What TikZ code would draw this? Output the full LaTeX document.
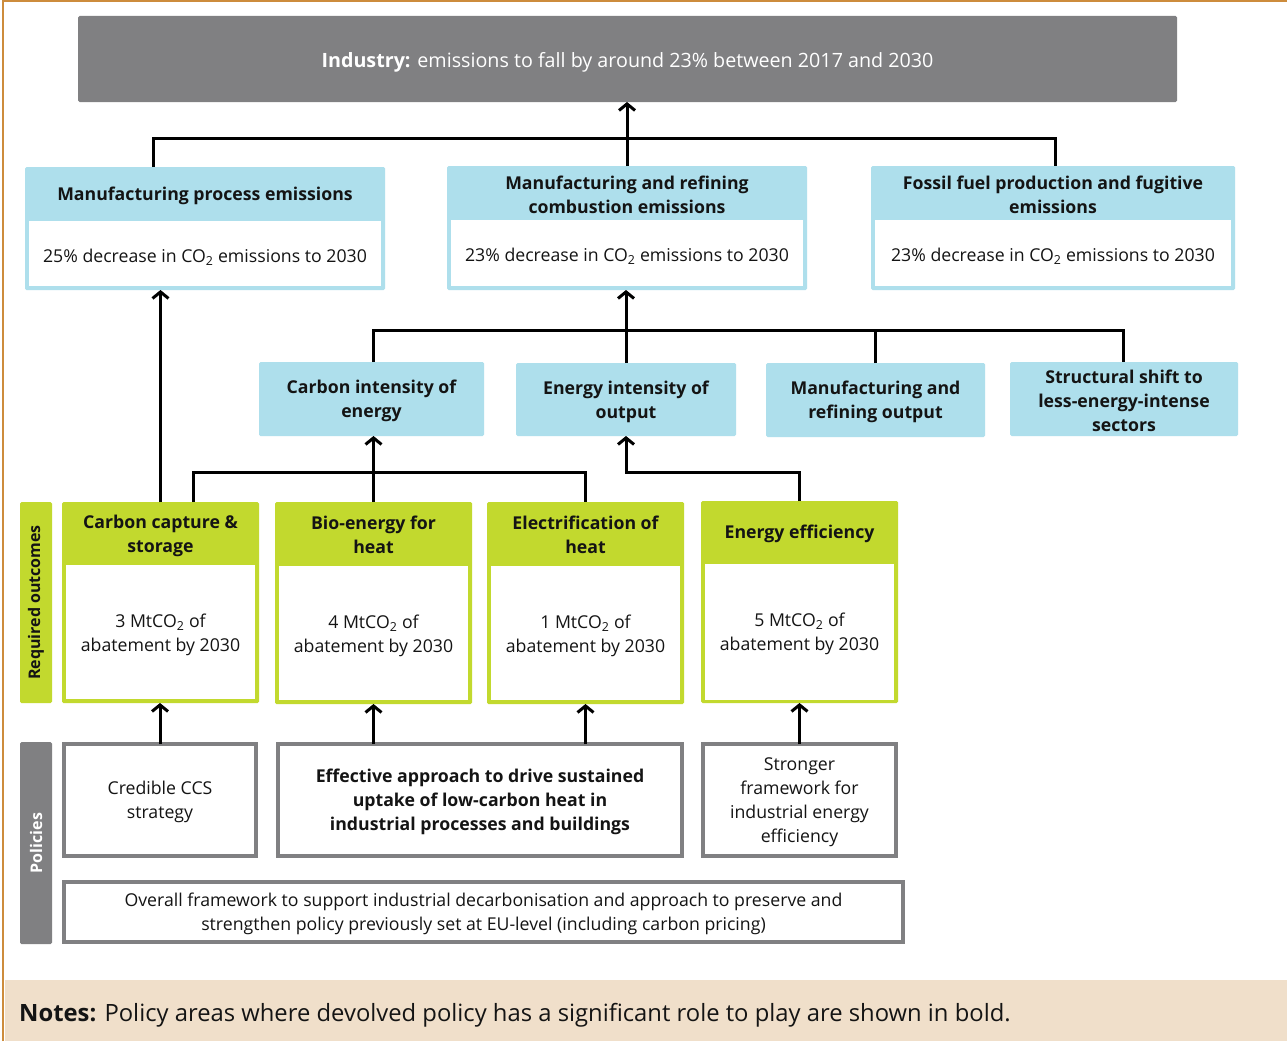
\documentclass[tikz,border=0pt]{standalone}
\usepackage{fontspec}
\setmainfont{Open Sans}
\usetikzlibrary{arrows.meta,calc}
\definecolor{lblue}{RGB}{174,223,236}
\definecolor{lgreen}{RGB}{194,217,46}
\definecolor{dgray}{RGB}{128,128,130}
\definecolor{notebg}{RGB}{240,223,202}
\definecolor{frameor}{RGB}{205,140,60}
\definecolor{txt}{RGB}{20,20,20}
\newcommand\cotwo{CO\textsubscript{2}}
\begin{document}
\begin{tikzpicture}[x=1pt,y=-1pt,
  blk/.style={inner sep=0pt, outer sep=0pt, anchor=north west},
  bluebox/.style={blk, fill=lblue, rounded corners=1.5pt},
  greenbox/.style={blk, fill=lgreen, rounded corners=1.5pt},
  whitebox/.style={blk, fill=white},
  polbox/.style={blk, fill=white, draw=dgray, line width=4pt},
  side/.style={blk, fill=dgray, rounded corners=1.5pt},
  hdr/.style={text=txt, align=center, font=\fontsize{17.7}{24}\selectfont\bfseries, inner sep=0pt, yshift=-2pt},
  bdy/.style={text=txt, align=center, font=\fontsize{17.7}{24}\selectfont, inner sep=0pt, yshift=-2pt},
  conn/.style={line width=3pt, draw=black},
  arr/.style={conn, -{Straight Barb[length=6.5pt,width=16pt,line width=3pt]}}
]
\useasboundingbox (0,0) rectangle (1287,1041);
\fill[white] (0,0) rectangle (1287,1041);

% notes band
\node[blk, fill=notebg, minimum width=1282pt, minimum height=61pt] (notes) at (5,980) {};
\node[anchor=west, inner sep=0pt, text=txt, font=\fontsize{23.8}{28}\selectfont, yshift=-2pt] (notestxt) at (19,1013)
  {\textbf{Notes:} Policy areas where devolved policy has a significant role to play are shown in bold.};

% frame
\draw[frameor, line width=2pt] (3,1041) -- (3,1) -- (1287,1);

% top box
\node[blk, fill=dgray, rounded corners=1.5pt, minimum width=1099pt, minimum height=86pt] (top) at (78,16) {};
\node[text=white, inner sep=0pt, font=\fontsize{19.7}{24}\selectfont, yshift=-2pt] (toptxt) at (627.5,60)
  {\textbf{Industry:} emissions to fall by around 23\% between 2017 and 2030};

% level 2
\node[bluebox, minimum width=360pt, minimum height=123pt] (m1) at (25,167) {};
\node[whitebox, minimum width=352pt, minimum height=65pt] (m1w) at (29,221) {};
\node[hdr] (m1h) at (205,194) {Manufacturing process emissions};
\node[bdy] (m1b) at (205,255) {25\% decrease in \cotwo{} emissions to 2030};

\node[bluebox, minimum width=360pt, minimum height=124pt] (m2) at (447,166) {};
\node[whitebox, minimum width=352pt, minimum height=66pt] (m2w) at (451,220) {};
\node[hdr] (m2h) at (627,193) {Manufacturing and refining\\combustion emissions};
\node[bdy] (m2b) at (627,254) {23\% decrease in \cotwo{} emissions to 2030};

\node[bluebox, minimum width=364pt, minimum height=124pt] (m3) at (871,166) {};
\node[whitebox, minimum width=356pt, minimum height=66pt] (m3w) at (875,220) {};
\node[hdr] (m3h) at (1053,193) {Fossil fuel production and fugitive\\emissions};
\node[bdy] (m3b) at (1053,254) {23\% decrease in \cotwo{} emissions to 2030};

% level 3
\node[bluebox, minimum width=225pt, minimum height=74pt] (c1) at (259,362) {};
\node[hdr] (c1t) at (c1.center) {Carbon intensity of\\energy};
\node[bluebox, minimum width=220pt, minimum height=73pt] (c2) at (516,363) {};
\node[hdr] (c2t) at (c2.center) {Energy intensity of\\output};
\node[bluebox, minimum width=219pt, minimum height=74pt] (c3) at (766,363) {};
\node[hdr] (c3t) at (c3.center) {Manufacturing and\\refining output};
\node[bluebox, minimum width=228pt, minimum height=74pt] (c4) at (1010,362) {};
\node[hdr] (c4t) at (c4.center) {Structural shift to\\less-energy-intense\\sectors};

% required outcomes
\node[greenbox, minimum width=32pt, minimum height=201pt] (sr) at (20,502) {};
\node[rotate=90, inner sep=0pt, text=txt, font=\fontsize{16}{18}\selectfont\bfseries] (srt) at (sr.center) {Required outcomes};

\node[greenbox, minimum width=197pt, minimum height=201pt] (g1) at (62,502) {};
\node[whitebox, minimum width=189pt, minimum height=134pt] (g1w) at (66,565) {};
\node[hdr] (g1h) at (160.5,534) {Carbon capture \&\\storage};
\node[bdy] (g1b) at (160.5,633) {3 Mt\cotwo{} of\\abatement by 2030};

\node[greenbox, minimum width=197pt, minimum height=202pt] (g2) at (275,502) {};
\node[whitebox, minimum width=189pt, minimum height=134pt] (g2w) at (279,566) {};
\node[hdr] (g2h) at (373.5,533) {Bio-energy for\\heat};
\node[bdy] (g2b) at (373.5,634) {4 Mt\cotwo{} of\\abatement by 2030};

\node[greenbox, minimum width=197pt, minimum height=202pt] (g3) at (487,502) {};
\node[whitebox, minimum width=189pt, minimum height=134pt] (g3w) at (491,566) {};
\node[hdr] (g3h) at (585.5,533) {Electrification of\\heat};
\node[bdy] (g3b) at (585.5,634) {1 Mt\cotwo{} of\\abatement by 2030};

\node[greenbox, minimum width=197pt, minimum height=202pt] (g4) at (701,501) {};
\node[whitebox, minimum width=189pt, minimum height=136pt] (g4w) at (705,564) {};
\node[hdr] (g4h) at (799.5,532) {Energy efficiency};
\node[bdy] (g4b) at (799.5,632) {5 Mt\cotwo{} of\\abatement by 2030};

% policies
\node[side, minimum width=32pt, minimum height=202pt] (sp) at (20,742) {};
\node[rotate=90, inner sep=0pt, text=white, font=\fontsize{16}{18}\selectfont\bfseries] (spt) at (sp.center) {Policies};

\node[polbox, minimum width=192pt, minimum height=112pt] (p1) at (64,744) {};
\node[bdy] (p1t) at (p1.center) {Credible CCS\\strategy};
\node[polbox, minimum width=404pt, minimum height=112pt] (p2) at (278,744) {};
\node[hdr] (p2t) at (p2.center) {Effective approach to drive sustained\\uptake of low-carbon heat in\\industrial processes and buildings};
\node[polbox, minimum width=193pt, minimum height=112pt] (p3) at (703,744) {};
\node[bdy] (p3t) at (p3.center) {Stronger\\framework for\\industrial energy\\efficiency};
\node[polbox, minimum width=839pt, minimum height=60pt] (p4) at (64,882) {};
\node[bdy] (p4t) at (p4.center) {Overall framework to support industrial decarbonisation and approach to preserve and\\strengthen policy previously set at EU-level (including carbon pricing)};

% connectors
\coordinate (t1) at (153,138);
\coordinate (t2) at (1055,138);
\draw[conn] (t1 |- m1.north) -- (t1) -- (t2) -- (t2 |- m3.north);
\draw[arr] (m2.north) -- (m2.north |- top.south);

\coordinate (k1) at (373,330);
\coordinate (k2) at (1123,330);
\draw[conn] (k1 |- c1.north) -- (k1) -- (k2) -- (k2 |- c4.north);
\draw[conn] (c3.north) -- (c3.north |- k1);
\draw[arr] (c2.north) -- (c2.north |- m2.south);

\coordinate (h1) at (193,472);
\coordinate (h2) at (585,472);
\coordinate (h3) at (626,472);
\draw[conn] (h1 |- g1.north) -- (h1) -- (h2) -- (h2 |- g3.north);
\draw[arr] (g2.north) -- (g2.north |- c1.south);
\draw[arr] (g4.north) |- (h3) -- (h3 |- c2.south);
\draw[arr] (g1.north) -- (g1.north |- m1.south);

\draw[arr] (p1.north) -- (p1.north |- g1.south);
\draw[arr] (g2.south |- p2.north) -- (g2.south);
\draw[arr] (g3.south |- p2.north) -- (g3.south);
\draw[arr] (p3.north) -- (p3.north |- g4.south);
\end{tikzpicture}
\end{document}
